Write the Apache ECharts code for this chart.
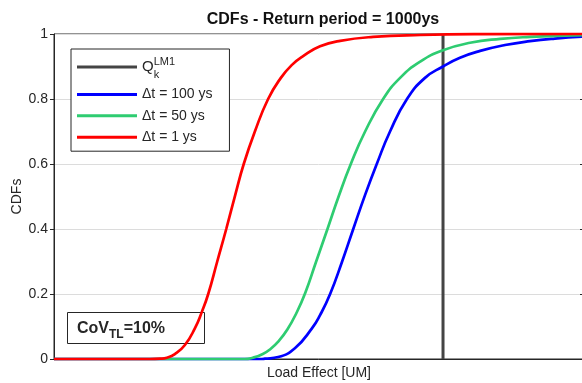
<!DOCTYPE html>
<html>
<head>
<meta charset="utf-8">
<script src="https://cdn.jsdelivr.net/npm/echarts@6/dist/echarts.min.js"></script>
<style>
  html, body { margin: 0; padding: 0; background: #fff; }
  #chart { width: 582px; height: 383px; }
</style>
</head>
<body>
<div id="chart"></div>
<script>
const FONT = '"Liberation Sans", Arial, Helvetica, sans-serif';

// Load effect sample points [UM] and the CDF read at each of them
const xRed   = [0, 18.1, 20.0, 21.3, 22.8, 24.7, 26.6, 27.9, 29.1, 30.8, 32.5, 34.2, 35.8, 37.9, 40.4, 42.8, 44.9, 47.0, 50.2, 54.0, 60.2, 69.1, 80.4, 100];
const cdfRed = [0, 0, 0.001, 0.004, 0.015, 0.043, 0.095, 0.145, 0.20, 0.30, 0.40, 0.505, 0.60, 0.70, 0.80, 0.865, 0.905, 0.932, 0.962, 0.979, 0.991, 0.997, 0.9995, 1.0];

const xBlue   = [0, 38.9, 39.8, 42.3, 45.5, 48.7, 50.2, 52.1, 54.3, 56.4, 58.7, 60.9, 63.4, 66.6, 70.0, 73.4, 76.6, 80.4, 85.1, 89.8, 94.5, 100];
const cdfBlue = [0, 0, 0.001, 0.006, 0.034, 0.095, 0.135, 0.20, 0.297, 0.397, 0.505, 0.60, 0.70, 0.80, 0.865, 0.90, 0.927, 0.948, 0.966, 0.978, 0.986, 0.992];

const xGreen   = [0, 36.0, 37.5, 39.2, 40.8, 42.5, 44.0, 45.7, 47.4, 49.4, 51.6, 53.7, 56.0, 58.7, 62.1, 65.3, 69.1, 73.4, 78.5, 84.2, 89.8, 100];
const cdfGreen = [0, 0, 0.004, 0.014, 0.03, 0.057, 0.09, 0.14, 0.203, 0.297, 0.40, 0.50, 0.60, 0.70, 0.80, 0.865, 0.915, 0.95, 0.973, 0.985, 0.991, 0.997];

// characteristic value Q_k (LM1)
const qk = 73.4;

const seriesNames = ['Q', 'Δt = 100 ys', 'Δt = 50 ys', 'Δt = 1 ys'];
const seriesColors = ['#444444', '#0000ff', '#2ecc71', '#ff0000'];

function pairs(xs, ys) { return xs.map((x, i) => [x, ys[i]]); }

function curve(idx, xs, ys) {
  return {
    name: seriesNames[idx],
    type: 'line',
    data: pairs(xs, ys),
    smooth: 0.5,
    symbol: 'none',
    clip: false,
    lineStyle: { color: seriesColors[idx], width: 2.7 },
    itemStyle: { color: seriesColors[idx] },
    emphasis: { disabled: true }
  };
}

const chart = echarts.init(document.getElementById('chart'), null, { renderer: 'canvas' });

chart.setOption({
  animation: false,
  backgroundColor: '#ffffff',
  title: {
    text: 'CDFs - Return period = 1000ys',
    left: 318, top: 7, textAlign: 'center',
    textStyle: { fontFamily: FONT, fontSize: 16, fontWeight: 'bold', color: '#111' }
  },
  grid: {
    left: 54, top: 34, right: -2, bottom: 24,
    outerBoundsMode: 'none',
    show: true, borderColor: '#262626', borderWidth: 1, backgroundColor: 'transparent'
  },
  legend: {
    orient: 'vertical',
    left: 71, top: 49,
    data: seriesNames,
    icon: 'rect',
    itemWidth: 60, itemHeight: 3, itemGap: 5.4,
    padding: [4, 17, 6, 6],
    backgroundColor: '#fff',
    borderColor: '#262626', borderWidth: 1, borderRadius: 0,
    selectedMode: false,
    formatter: name => name === 'Q' ? '{q|Q}{k|k}{s|LM1}' : name,
    textStyle: {
      fontFamily: FONT, fontSize: 14, color: '#262626', lineHeight: 16,
      rich: {
        q: { fontFamily: FONT, fontSize: 15, color: '#262626', lineHeight: 28, verticalAlign: 'middle' },
        k: { fontFamily: FONT, fontSize: 11, color: '#262626', lineHeight: 12, verticalAlign: 'bottom', width: 0, padding: [0, 0, 1, 0] },
        s: { fontFamily: FONT, fontSize: 11, color: '#262626', lineHeight: 12, verticalAlign: 'top', padding: [3, 0, 0, 0] }
      }
    }
  },
  xAxis: {
    type: 'value', min: 0, max: 100,
    name: 'Load Effect [UM]', nameLocation: 'middle', nameGap: 7,
    nameTextStyle: { fontFamily: FONT, fontSize: 14, color: '#262626', verticalAlign: 'top' },
    axisLine: { show: true, lineStyle: { color: '#262626', width: 1 } },
    axisTick: { show: false },
    axisLabel: { show: false },
    splitLine: { show: false }
  },
  yAxis: [{
    type: 'value', min: 0, max: 1, interval: 0.2,
    name: 'CDFs', nameLocation: 'middle', nameGap: 30, nameMoveOverlap: false,
    nameTextStyle: { fontFamily: FONT, fontSize: 14, color: '#262626' },
    axisLine: { show: true, lineStyle: { color: '#262626', width: 1 } },
    axisTick: { show: true, inside: false, length: 4, lineStyle: { color: '#262626' } },
    axisLabel: { fontFamily: FONT, fontSize: 14, color: '#262626', margin: 6 },
    splitLine: { show: true, lineStyle: { color: '#dcdcdc', width: 1 } }
  }, {
    type: 'value', min: 0, max: 1, interval: 0.2, position: 'right',
    axisLine: { show: true, lineStyle: { color: '#262626', width: 1 } },
    axisTick: { show: true, inside: true, length: 4, lineStyle: { color: '#262626' } },
    axisLabel: { show: false },
    splitLine: { show: false }
  }],
  series: [
    {
      name: seriesNames[0],
      type: 'line',
      data: [[qk, 0], [qk, 1]],
      symbol: 'none',
      lineStyle: { color: seriesColors[0], width: 3 },
      itemStyle: { color: seriesColors[0] },
      emphasis: { disabled: true }
    },
    curve(1, xBlue, cdfBlue),
    curve(2, xGreen, cdfGreen),
    curve(3, xRed, cdfRed)
  ],
  graphic: [{
    type: 'group',
    children: [
      {
        type: 'rect',
        shape: { x: 67.5, y: 312.5, width: 137, height: 31 },
        style: { fill: '#ffffff', stroke: '#262626', lineWidth: 1 }
      },
      {
        type: 'text',
        x: 77, y: 329,
        style: {
          text: '{b|CoV}{t|TL}{b|=10%}',
          verticalAlign: 'middle',
          rich: {
            b: { fontFamily: FONT, fontSize: 16, fontWeight: 'bold', fill: '#262626', lineHeight: 24, verticalAlign: 'middle' },
            t: { fontFamily: FONT, fontSize: 12, fontWeight: 'bold', fill: '#262626', lineHeight: 14, verticalAlign: 'bottom' }
          }
        }
      }
    ]
  }]
});
</script>
</body>
</html>
